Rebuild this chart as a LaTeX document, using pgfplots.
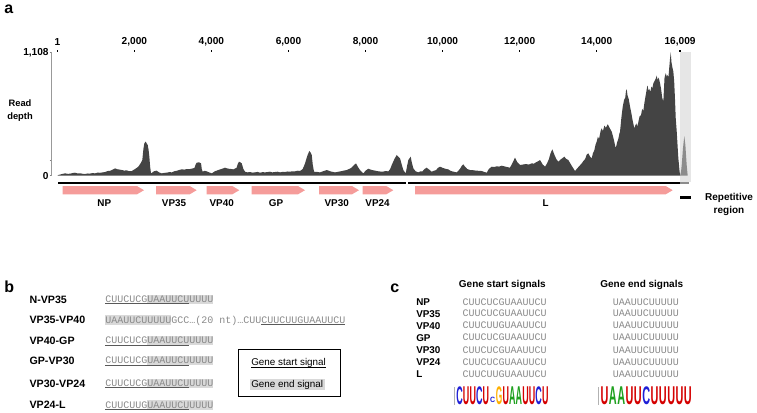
\documentclass[border=0pt]{standalone}
\usepackage{graphicx}
\usepackage{fontspec}
\setmainfont{Liberation Sans}
\setmonofont{Liberation Mono}
\usepackage{pgfplots}
\pgfplotsset{compat=1.18}
\definecolor{cov}{HTML}{444444}
\definecolor{pinkg}{HTML}{F59C9A}
\definecolor{repbg}{HTML}{E6E6E6}
\definecolor{repcov}{HTML}{8C8C8C}
\definecolor{seqgray}{HTML}{8A8A8A}
\definecolor{hl}{HTML}{D9D9D9}
\definecolor{lblue}{HTML}{1F1FD6}
\definecolor{lred}{HTML}{D40000}
\definecolor{lorange}{HTML}{FFB000}
\definecolor{lgreen}{HTML}{1EA01E}
\newcommand{\bsf}[1]{\bfseries\fontsize{#1}{#1}\selectfont}
\newcommand{\seqfont}{\ttfamily\fontsize{7.5}{9}\selectfont}
\begin{document}
\begin{tikzpicture}
\path[use as bounding box] (0,0) rectangle (567.75pt,-309pt);
\begin{axis}[
  at={(38.775pt,-131.775pt)}, anchor=south west,
  scale only axis, width=479.5pt, height=92.55pt,
  xmin=-145, xmax=16448, ymin=0, ymax=1108,
  enlargelimits=false, clip=false,
  axis x line*=top, axis y line*=left,
  x axis line style={draw=none},
  y axis line style={draw=gray!80, line width=0.4pt, -},
  scaled x ticks=false, scaled y ticks=false,
  xtick={1,2000,4000,6000,8000,10000,12000,14000,16163},
  xticklabels={1,{2,000},{4,000},{6,000},{8,000},{10,000},{12,000},{14,000},{16,009}},
  ytick={0,135,1108}, yticklabels={0,,{1,108}},
  tick align=outside,
  major tick length=1.5pt,
  x tick style={black, line width=1.1pt},
  y tick style={gray, line width=0.4pt},
  xticklabel style={font=\bsf{7.6}},
  yticklabel style={font=\bsf{7.6}, inner sep=0.6pt},
  /pgf/number format/assume math mode=true,
]
\addplot[fill=repbg, draw=none] coordinates {(16163,-57) (16448,-57) (16448,1112) (16163,1112)} -- cycle;
\addplot[fill=cov, draw=none] coordinates {
(1,0) (27,6) (110,14) (201,21) (270,17) (330,18) (400,24) (460,27) (530,20) (600,22) (660,17) (720,15) (790,20) (850,19) (920,24) (980,21) (1050,28) (1110,26) (1180,30) (1239,33) (1310,42) (1380,45) (1440,55) (1499,66) (1560,58) (1620,55) (1672,51) (1740,46) (1800,48) (1870,40) (1932,42) (2020,60) (2103,81) (2160,110) (2207,141) (2235,240) (2259,291) (2295,306) (2320,290) (2347,276) (2370,230) (2389,171) (2410,80) (2433,21) (2510,40) (2581,45) (2640,30) (2711,21) (2780,26) (2840,27) (2910,33) (2970,30) (3040,40) (3100,44) (3170,52) (3230,57) (3300,55) (3360,60) (3420,58) (3489,63) (3560,70) (3590,100) (3619,117) (3680,120) (3731,111) (3750,60) (3775,36) (3820,44) (3879,39) (3940,30) (4008,21) (4090,40) (4180,51) (4260,60) (4354,72) (4400,66) (4460,62) (4520,60) (4569,57) (4650,70) (4690,110) (4717,126) (4750,120) (4787,111) (4830,60) (4873,36) (4940,30) (5000,33) (5070,28) (5132,30) (5200,34) (5260,27) (5330,32) (5392,30) (5460,33) (5521,36) (5580,30) (5650,33) (5720,36) (5781,30) (5850,35) (5910,33) (5980,38) (6041,36) (6100,40) (6170,39) (6240,45) (6300,42) (6370,60) (6430,111) (6490,180) (6541,222) (6570,210) (6604,186) (6630,100) (6663,36) (6740,34) (6819,30) (6900,40) (6993,51) (7100,38) (7208,30) (7290,35) (7360,40) (7440,46) (7512,51) (7570,60) (7630,70) (7700,95) (7753,111) (7800,80) (7857,51) (7943,21) (8000,45) (8073,63) (8130,55) (8180,50) (8240,46) (8291,42) (8370,38) (8450,36) (8520,42) (8592,39) (8640,60) (8680,96) (8750,150) (8810,186) (8850,170) (8895,156) (8940,100) (8981,51) (9043,21) (9080,90) (9111,141) (9173,171) (9200,120) (9241,66) (9300,40) (9370,30) (9420,38) (9480,40) (9530,60) (9588,72) (9650,55) (9718,36) (9780,45) (9830,50) (9880,70) (9934,81) (9990,72) (10040,66) (10100,60) (10149,57) (10200,45) (10260,38) (10310,34) (10367,30) (10450,60) (10500,90) (10538,102) (10582,81) (10640,60) (10712,51) (10756,51) (10820,48) (10880,45) (10950,44) (11016,42) (11080,34) (11146,27) (11200,60) (11275,81) (11340,78) (11400,84) (11470,82) (11535,90) (11590,85) (11650,80) (11700,76) (11750,72) (11820,120) (11880,162) (11940,120) (12010,96) (12080,100) (12160,105) (12240,100) (12314,111) (12370,108) (12420,120) (12480,130) (12529,141) (12600,100) (12659,81) (12710,110) (12760,150) (12800,200) (12848,237) (12900,190) (12950,150) (13004,126) (13080,150) (13120,160) (13160,171) (13210,150) (13263,141) (13350,90) (13437,42) (13480,60) (13530,80) (13570,95) (13611,111) (13650,130) (13700,150) (13740,190) (13783,201) (13830,170) (13871,156) (13900,200) (13940,230) (13970,280) (14000,306) (14030,350) (14060,330) (14100,400) (14130,426) (14160,400) (14200,450) (14240,430) (14286,462) (14320,440) (14350,420) (14390,395) (14440,330) (14494,246) (14530,300) (14560,330) (14590,380) (14605,395) (14640,520) (14675,620) (14710,680) (14740,700) (14760,760) (14779,776) (14800,720) (14830,690) (14865,620) (14900,560) (14930,500) (14976,426) (15000,450) (15030,470) (15050,440) (15080,480) (15110,530) (15150,545) (15180,600) (15210,580) (15236,650) (15260,700) (15290,760) (15310,800) (15324,808) (15340,760) (15360,780) (15392,754) (15420,800) (15444,785) (15470,830) (15500,850) (15530,870) (15558,898) (15580,860) (15610,880) (15643,830) (15670,780) (15700,700) (15729,665) (15760,880) (15791,920) (15820,890) (15845,905) (15859,875) (15880,960) (15900,1040) (15921,1108) (15940,1020) (15960,980) (15989,934) (16010,850) (16030,700) (16051,516) (16080,380) (16100,260) (16119,156) (16145,60) (16163,0)} -- cycle;
\addplot[fill=repcov, draw=none] coordinates {(16163,0) (16190,40) (16206,96) (16240,250) (16273,356) (16300,280) (16335,96) (16361,0)} -- cycle;
\end{axis}
\begin{scope}[x=0.75pt,y=-0.75pt]
% panel letters
\node[anchor=base west,inner sep=0pt,font=\bsf{12}] at (4,13) {a};
\node[anchor=base west,inner sep=0pt,font=\bsf{12}] at (4,292) {b};
\node[anchor=base west,inner sep=0pt,font=\bsf{12}] at (390,292) {c};
% read depth
\node[align=center,inner sep=0pt,font=\bfseries\fontsize{7}{9.75}\selectfont] at (20,110.5) {Read\\depth};
% genome line
\fill[black] (58,181.5) rectangle (406,184);
\fill[black] (407.7,181.5) rectangle (680,184);
\fill[repcov] (680,181.5) rectangle (689,184);
\fill[black] (680,195.5) rectangle (691,198.5);
\node[align=center,inner sep=0pt,font=\bfseries\fontsize{7.5}{9.5}\selectfont] at (729,204.7) {Repetitive\\region};
% gene arrows
\foreach \a/\b in {62.7/144,156/196.7,206.7/239.3,251.7/305,319/359,362.7/393.3,415/672.7}{
  \fill[pinkg] (\a,186) -- ({\b-7},186) -- (\b,190.2) -- ({\b-7},194.3) -- (\a,194.3) -- cycle;
}
\foreach \x/\t in {104.3/NP,174/VP35,221.7/VP40,276/GP,336.7/VP30,377.5/VP24,545.7/L}{
  \node[anchor=base,inner sep=0pt,font=\bsf{7.4}] at (\x,206.6) {\t};
}
% panel b
\foreach \y/\t in {299.3/N-VP35,320/VP35-VP40,340.7/VP40-GP,360.7/GP-VP30,383.3/VP30-VP24,405/VP24-L}{
  \node[anchor=base west,inner sep=0pt,font=\bsf{8}] at (29.3,\y+3.8) {\t};
}
% highlight boxes
\foreach \y in {299.3,340.7,360.7,383.3,405}{
  \fill[hl] (147,\y-4.7) rectangle (213,\y+4.7);
  \draw[gray!70!black,line width=0.45pt] (105,\y+4.3) -- (189,\y+4.3);
}
\fill[hl] (105,315.3) rectangle (171,324.7);
\draw[gray!70!black,line width=0.45pt] (261,324.3) -- (345,324.3);
\foreach \y/\s in {299.3/CUUCUCGUAAUUCUUUUU,340.7/CUUCUCGUAAUUCUUUUU,360.7/CUUCUCGUAAUUCUUUUU,383.3/CUUCUCGUAAUUCUUUUU,405/CUUCUUGUAAUUCUUUUU}{
  \node[anchor=base west,inner sep=0pt,text=seqgray,font=\seqfont] at (105,\y+3.1) {\s};
}
\node[anchor=base west,inner sep=0pt,text=seqgray,font=\seqfont] at (105,323.1) {UAAUUCUUUUUGCC…(20 nt)…CUUCUUCUUGUAAUUCU};
% legend box
\draw[line width=0.75pt] (238.3,349.3) rectangle (340,396);
\fill[hl] (250,378.8) rectangle (324.5,389.8);
\node[anchor=base west,inner sep=0pt,font=\fontsize{7.4}{9}\selectfont] at (251,365.9) {Gene start signal};
\draw[black,line width=0.45pt] (251,367.6) -- (325.6,367.6);
\node[anchor=base west,inner sep=0pt,font=\fontsize{7.4}{9}\selectfont] at (251,387.9) {Gene end signal};
% panel c
\node[anchor=base,inner sep=0pt,font=\bsf{7.5}] at (502.3,287.6) {Gene start signals};
\node[anchor=base,inner sep=0pt,font=\bsf{7.5}] at (641.7,287.6) {Gene end signals};
\foreach \y/\t/\s in {302.3/NP/CUUCUCGUAAUUCU,313.7/VP35/CUUCUCGUAAUUCU,325.7/VP40/CUUCUUGUAAUUCU,337.7/GP/CUUCUCGUAAUUCU,350/VP30/CUUCUCGUAAUUCU,362/VP24/CUUCUCGUAAUUCU,374.3/L/CUUCUUGUAAUUCU}{
  \node[anchor=base west,inner sep=0pt,font=\bsf{7.4}] at (416,\y+3.6) {\t};
  \node[anchor=base west,inner sep=0pt,text=seqgray,font=\seqfont] at (462.3,\y+3.1) {\s};
  \node[anchor=base west,inner sep=0pt,text=seqgray,font=\seqfont] at (612.7,\y+3.1) {UAAUUCUUUUU};
}
% logos
\draw[gray!60,line width=0.3pt] (454,387) -- (454,405);
\draw[gray!60,line width=0.3pt] (598,387) -- (598,405);
\foreach \l/\c [count=\i from 0] in {C/lblue,U/lred,U/lred,C/lblue,U/lred,X/white,G/lorange,U/lred,A/lgreen,A/lgreen,U/lred,U/lred,C/lblue,U/lred}{
  \ifx\l X\else
  \node[anchor=south west,inner sep=0pt,text=\c] at ({456.1+\i*6.59},405) {\resizebox{4.85pt}{13.3pt}{\bfseries \l}};
  \fi
}
\node[anchor=south west,inner sep=0pt,text=lblue] at ({456.1+5*6.59+0.8},403) {\resizebox{3.8pt}{4pt}{\bfseries C}};
\foreach \l/\c [count=\i from 0] in {U/lred,A/lgreen,A/lgreen,U/lred,U/lred,C/lblue,U/lred,U/lred,U/lred,U/lred,U/lred}{
  \node[anchor=south west,inner sep=0pt,text=\c] at ({600.3+\i*8.34},405) {\resizebox{5.9pt}{13.3pt}{\bfseries \l}};
}
\end{scope}
\end{tikzpicture}
\end{document}
